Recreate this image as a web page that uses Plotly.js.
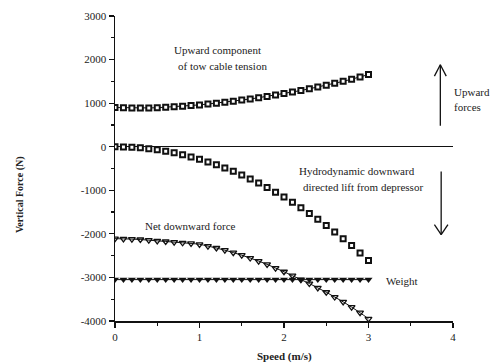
<!DOCTYPE html>
<html>
<head>
<meta charset="utf-8">
<script src="https://cdn.plot.ly/plotly-3.0.1.min.js"></script>
<style>html,body{margin:0;padding:0;background:#fff;}#chart{width:504px;height:364px;}</style>
</head>
<body>
<div id="chart"></div>
<script>
// Speed (m/s)
var speed = [0,0.1,0.2,0.3,0.4,0.5,0.6,0.7,0.8,0.9,1.0,1.1,1.2,1.3,1.4,1.5,1.6,1.7,1.8,1.9,2.0,2.1,2.2,2.3,2.4,2.5,2.6,2.7,2.8,2.9,3.0];
// Upward component of tow cable tension (N)
var upward = [900,895,890,890,890,895,905,915,930,945,960,980,1000,1020,1045,1070,1095,1125,1155,1185,1220,1255,1290,1330,1370,1410,1455,1500,1550,1600,1655];
// Hydrodynamic downward directed lift from depressor (N)
var hydro = [0,-5,-10,-25,-45,-70,-105,-140,-185,-235,-290,-350,-415,-490,-565,-650,-740,-835,-935,-1045,-1155,-1275,-1400,-1530,-1665,-1810,-1960,-2110,-2270,-2440,-2610];
// Net downward force (N)
var net = [-2110,-2115,-2120,-2130,-2145,-2160,-2175,-2190,-2205,-2220,-2240,-2280,-2325,-2375,-2430,-2490,-2555,-2625,-2700,-2785,-2870,-2960,-3050,-3140,-3240,-3340,-3450,-3560,-3680,-3810,-3950];
// Weight (N)
var weight = [-3050,-3050,-3050,-3050,-3050,-3050,-3050,-3050,-3050,-3050,-3050,-3050,-3050,-3050,-3050,-3050,-3050,-3050,-3050,-3050,-3050,-3050,-3050,-3050,-3050,-3050,-3050,-3050,-3050,-3050,-3050];

var yTickVals = [3000,2000,1000,0,-1000,-2000,-3000,-4000];
var yTickText = ["3000","2000","1000","0","-1000","-2000","-3000","-4000"];
var xTickVals = [0,1,2,3,4];
var xTickText = ["0","1","2","3","4"];

var serif = "'Liberation Serif', 'DejaVu Serif', serif";

var traces = [
  {x: speed, y: upward, mode: "lines+markers", line:{color:"#111", width:1},
   marker:{symbol:"square", size:5, color:"#fff", line:{color:"#111", width:2}}},
  {x: speed, y: hydro, mode: "markers",
   marker:{symbol:"square", size:5, color:"#fff", line:{color:"#111", width:2}}},
  {x: speed, y: weight, mode: "lines+markers", line:{color:"#111", width:1},
   marker:{symbol:"triangle-down", size:7, color:"#111"}},
  {x: speed, y: net, mode: "lines+markers", line:{color:"#111", width:1, shape:"spline"},
   marker:{symbol:"triangle-down-open", size:6, color:"#111", line:{width:1.3}}}
];

function ann(x, y, text, xanchor, size) {
  return {x:x, y:y, xref:"x", yref:"y", text:text, showarrow:false,
          xanchor:xanchor||"center", yanchor:"middle",
          font:{family:serif, size:size||11, color:"#222"}};
}

var layout = {
  width:504, height:364,
  margin:{l:115, r:51, t:16, b:43},
  paper_bgcolor:"#fff", plot_bgcolor:"#fff",
  showlegend:false,
  font:{family:serif, size:11, color:"#222"},
  xaxis:{range:[0,4], tickvals:xTickVals, ticktext:xTickText, showgrid:false, zeroline:false,
         showline:true, linecolor:"#111", linewidth:1.5, ticks:"outside", ticklen:5, tickwidth:1.2, tickcolor:"#111",
         minor:{dtick:0.5, ticks:"outside", ticklen:3, tickcolor:"#111", showgrid:false},
         tickfont:{family:serif, size:11, color:"#222"}},
  yaxis:{range:[-4000,3000], tickvals:yTickVals, ticktext:yTickText, showgrid:false,
         zeroline:true, zerolinecolor:"#111", zerolinewidth:1.5,
         showline:true, linecolor:"#111", linewidth:1.5, ticks:"outside", ticklen:5, tickwidth:1.2, tickcolor:"#111",
         minor:{dtick:500, ticks:"outside", ticklen:3, tickcolor:"#111", showgrid:false},
         tickfont:{family:serif, size:11, color:"#222"}},
  annotations:[
    ann(1.21, 2225, "Upward component"),
    ann(1.27, 1860, "of tow cable tension"),
    ann(2.86, -550, "Hydrodynamic downward"),
    ann(2.93, -920, "directed lift from depressor"),
    ann(0.89, -1810, "Net downward force"),
    ann(3.18, -3075, "Weight", "left"),
    ann(3.99, 1260, "Upward", "left"),
    ann(3.99, 920, "forces", "left"),
    ann(4.03, -1140, "Downward", "left"),
    ann(4.03, -1500, "forces", "left"),
    {xref:"paper", yref:"paper", x:-0.281, y:0.413, text:"<b>Vertical Force (N)</b>", textangle:-90,
     showarrow:false, xanchor:"center", yanchor:"middle", font:{family:serif, size:10, color:"#222"}},
    {xref:"paper", yref:"paper", x:0.5, y:-0.118, text:"<b>Speed (m/s)</b>",
     showarrow:false, xanchor:"center", yanchor:"middle", font:{family:serif, size:11, color:"#222"}}
  ],
  shapes:[
    // up arrow
    {type:"line", xref:"x", yref:"y", x0:3.85, x1:3.85, y0:480, y1:1880, line:{color:"#111", width:1.3}},
    {type:"line", xref:"x", yref:"y", x0:3.78, x1:3.85, y0:1620, y1:1880, line:{color:"#111", width:1.3}},
    {type:"line", xref:"x", yref:"y", x0:3.92, x1:3.85, y0:1620, y1:1880, line:{color:"#111", width:1.3}},
    // down arrow
    {type:"line", xref:"x", yref:"y", x0:3.86, x1:3.86, y0:-570, y1:-2020, line:{color:"#111", width:1.3}},
    {type:"line", xref:"x", yref:"y", x0:3.78, x1:3.86, y0:-1790, y1:-2020, line:{color:"#111", width:1.3}},
    {type:"line", xref:"x", yref:"y", x0:3.94, x1:3.86, y0:-1790, y1:-2020, line:{color:"#111", width:1.3}}
  ]
};

Plotly.newPlot("chart", traces, layout, {displayModeBar:false, staticPlot:true});
</script>
</body>
</html>
